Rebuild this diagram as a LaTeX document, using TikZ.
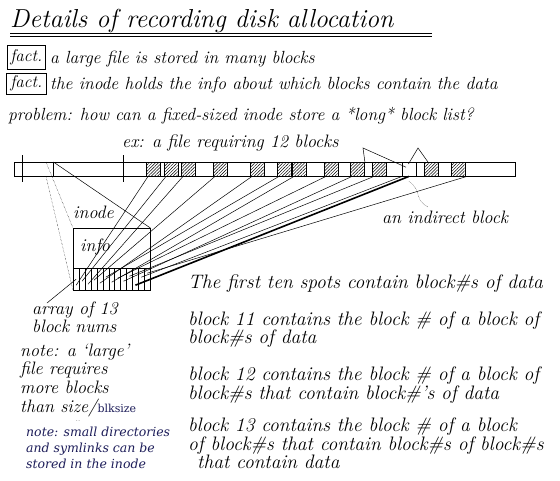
\documentclass[tikz,border=0pt]{standalone}
\usepackage{fontspec}
\usetikzlibrary{patterns,patterns.meta}
\newfontfamily\notefont{DejaVu Serif}
\definecolor{notecol}{HTML}{1E1E5A}
\begin{document}
\begin{tikzpicture}[x=1pt,y=-1pt,
  hw/.style={font=\fontsize{18}{20}\selectfont\itshape, anchor=base west, inner sep=0pt},
  hwt/.style={font=\fontsize{17.6}{19}\selectfont\itshape, anchor=base west, inner sep=0pt},
  hwb/.style={font=\fontsize{19.5}{21}\selectfont\itshape, anchor=base west, inner sep=0pt},
  titlefont/.style={font=\fontsize{26}{28}\selectfont\itshape, anchor=base west, inner sep=0pt},
  notetext/.style={font=\fontsize{11}{13}\selectfont\notefont, text=notecol, anchor=base west, inner sep=0pt},
  factbox/.style={draw, font=\fontsize{17}{19}\selectfont\itshape, inner sep=0pt, anchor=north west},
  blk/.style={draw, minimum width=13.5pt, minimum height=14pt, inner sep=0pt, anchor=north west},
  datablk/.style={blk, pattern={Lines[angle=45,distance=2.2pt,line width=0.5pt]}},
  cellbox/.style={draw, minimum width=5.923pt, minimum height=22pt, inner sep=0pt, anchor=north west},
  link/.style={line width=0.5pt}
]
\useasboundingbox (0,0) rectangle (560,480);
\fill[white] (0,0) rectangle (560,480);

% title
\node[titlefont] (title) at (10,27) {Details of recording disk allocation};
\draw (10,33.5) -- (432,33.5);
\draw (10,36.5) -- (432,36.5);

% facts
\node[factbox, minimum width=38pt, minimum height=24pt] (f1) at (7,45) {fact.};
\node[hwt] (t1) at (50,63) {a large file is stored in many blocks};
\node[factbox, minimum width=40pt, minimum height=21pt] (f2) at (6,73) {fact.};
\node[hwt] (t2) at (50,89) {the inode holds the info about which blocks contain the data};
\node[hwt] (t3) at (8,120) {problem: how can a fixed-sized inode store a *long* block list?};
\node[hw] (t4) at (122,147) {ex: a file requiring 12 blocks};

% disk strip
\node[blk, minimum width=501pt] (disk) at (14,162) {};
\draw (22,155) -- (22,182);
\draw (123,155) -- (123,182);
\node[minimum width=7pt, minimum height=14pt, inner sep=0pt, anchor=north west] (dino) at (46,162) {};
\draw (dino.north east) -- (dino.south east);

\foreach \k/\xx in {1/146,2/164,3/181,4/213,5/250,6/277,7/292,8/324,9/350,10/372,11/424,12/451}
  \node[datablk] (d\k) at (\xx,162) {};
\node[blk] (ind) at (402,162) {};

% inode box
\node[draw, minimum width=77pt, minimum height=40pt, inner sep=0pt, anchor=north west] (inode) at (73,228) {};
\foreach \i in {1,...,13}
  \node[cellbox] (c\i) at ({73+(\i-1)*5.923},268) {};
\node[hw] (inodelbl) at (73,218) {inode};
\node[hw] (info) at (80,251) {info};

% zoom lines from the inode block
\draw[densely dotted] (dino.north west) -- (inode.north west);
\draw[densely dotted] (dino.south west) -- (c1.south west);
\draw[link] (dino.north east) -- (inode.north east);

% block pointer lines
\foreach \k/\dy in {1/-6,2/-2,3/-5,4/-1,5/-4,6/2,7/-3,8/1,9/-2,10/3}
  \draw[link] ([xshift=2pt]d\k.south west) -- ([yshift=\dy pt]c\k.center);
\draw[line width=1.6pt] (ind.south) -- ([yshift=-6pt]c11.center);
\draw[link] (ind.south west) -- ([yshift=2pt]c12.center);
\draw[link] ([xshift=2pt]d12.south east) -- ([yshift=6pt]c13.center);

% carets above the strip
\coordinate (a1) at (363,148);
\coordinate (a2) at (418,148);
\draw[link] ([xshift=1pt]d9.north east) -- (a1) -- ([xshift=-3pt,yshift=2pt]ind.center);
\draw[link] ([xshift=-0.5pt,yshift=-2pt]ind.north) -- (a2) -- ([xshift=-3pt]d11.north);

% indirect block label
\node[hw] (indlbl) at (382,223) {an indirect block};
\coordinate (e1) at (428,207);
\draw[densely dotted] ([yshift=-5pt]ind.south) .. controls (422,190) and (414,200) .. (e1);

% explanations
\node[hwb] (x1) at (188,288) {The first ten spots contain block\#s of data};
\node[hwb] (x2) at (188,325) {block 11 contains the block \# of a block of};
\node[hwb] (x2b) at (188,343) {block\#s of data};
\node[hwb] (x3) at (188,380) {block 12 contains the block \# of a block of};
\node[hwb] (x3b) at (188,399) {block\#s that contain block\#'s of data};
\node[hwb] (x4) at (188,431) {block 13 contains the block \# of a block};
\node[hwb] (x4b) at (188,450) {of block\#s that contain block\#s of block\#s};
\node[hwb] (x4c) at (197,468) {that contain data};

% array label
\node[hw] (arr) at (32,314) {array of 13};
\node[hw] (arr2) at (32,332) {block nums};
\draw[link] (47,303) -- (c1.center);

% note on large files
\node[hw] (n1) at (20,356) {note: a `large'};
\node[hw] (n2) at (20,374) {file requires};
\node[hw] (n3) at (20,393) {more blocks};
\node[hw] (n4) at (20,412) {than size/};
\node[notetext, anchor=base west] (n4b) at (n4.base east) {blksize};
\node[font=\fontsize{6}{6}\selectfont, inner sep=0pt] (dots) at (78,421) {..};

% note on small directories
\node[notetext, font=\fontsize{12.5}{14}\selectfont\notefont\itshape] (m1) at (26,436) {note: small directories};
\node[notetext, font=\fontsize{12.5}{14}\selectfont\notefont\itshape] (m2) at (26,452) {and symlinks can be};
\node[notetext, font=\fontsize{12.5}{14}\selectfont\notefont\itshape] (m3) at (26,468) {stored in the inode};
\end{tikzpicture}
\end{document}
